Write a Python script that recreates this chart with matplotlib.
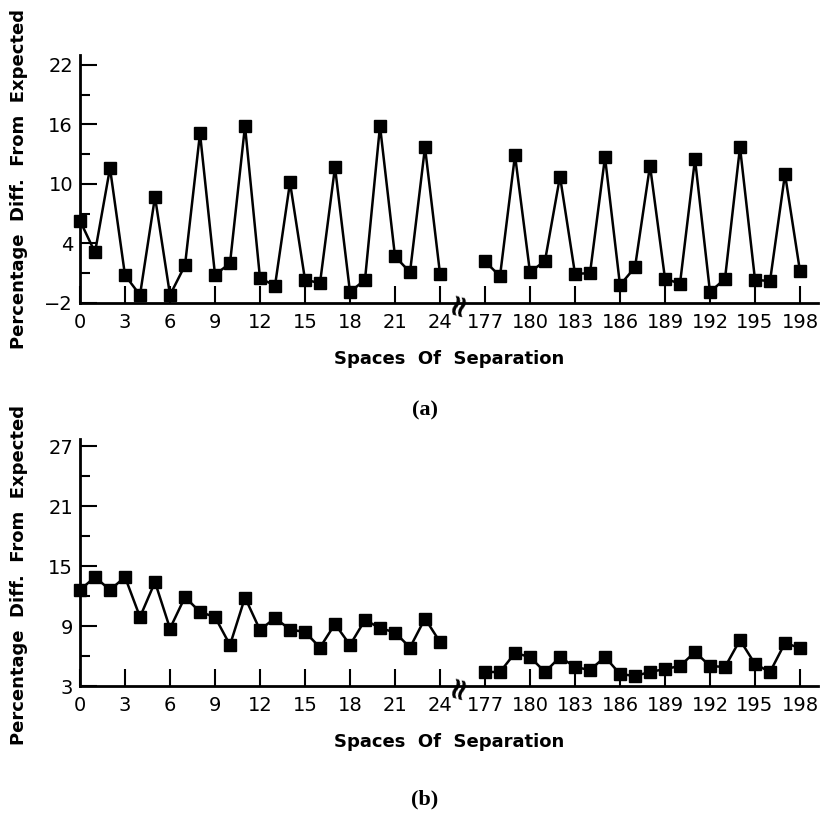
import matplotlib
matplotlib.use("Agg")
import matplotlib.pyplot as plt
from matplotlib.ticker import FixedLocator

# separations shown on the axis (the middle range 25..176 is cut out)
sep_left = list(range(0, 25))
sep_right = list(range(177, 199))
GAP = 150  # 177 is drawn where 27 would be

# (a) percentage difference from expected
pct_a_left = [6.3, 3.1, 11.6, 0.8, -1.2, 8.7, -1.2, 1.8, 15.1, 0.85, 2.0, 15.85, 0.5,
              -0.25, 10.15, 0.35, 0.0, 11.7, -0.9, 0.35, 15.85, 2.7, 1.1, 13.7, 0.95]
pct_a_right = [2.2, 0.7, 12.9, 1.1, 2.25, 10.75, 0.95, 1.0, 12.7, -0.2, 1.6, 11.85,
               0.45, -0.05, 12.5, -0.9, 0.45, 13.7, 0.35, 0.2, 11.0, 1.2]

# (b) percentage difference from expected
pct_b_left = [12.6, 13.9, 12.6, 13.9, 9.9, 13.4, 8.75, 11.9, 10.4, 9.9, 7.1, 11.85, 8.6,
              9.8, 8.65, 8.4, 6.85, 9.2, 7.1, 9.6, 8.8, 8.35, 6.85, 9.75, 7.4]
pct_b_right = [4.4, 4.4, 6.3, 5.9, 4.4, 5.9, 4.9, 4.6, 5.9, 4.2, 4.0, 4.4, 4.7, 5.0,
               6.4, 5.0, 4.9, 7.6, 5.2, 4.4, 7.3, 6.8]

x_ticks = list(range(0, 25, 3)) + list(range(177, 199, 3))

W, H = 827, 816
fig = plt.figure(figsize=(W / 100, H / 100), dpi=100)

tick_font = dict(family="DejaVu Sans", weight="normal")
label_font = dict(family="DejaVu Sans", weight="bold")


def panel(rect, left_vals, right_vals, ylim, major, minor, label_y, tag, tag_y):
    ax = fig.add_axes(rect)
    for xs, ys in ((sep_left, left_vals), (sep_right, right_vals)):
        pos = [s - GAP if s > 100 else s for s in xs]
        ax.plot(pos, ys, color="black", lw=1.8, marker="s", ms=9,
                mec="black", mfc="black", clip_on=False, zorder=3)
    ax.set_xlim(0, 49.2)
    ax.set_ylim(*ylim)
    ax.spines["top"].set_visible(False)
    ax.spines["right"].set_visible(False)
    for s in ("left", "bottom"):
        ax.spines[s].set_linewidth(2.0)
    tick_pos = [t - GAP if t > 100 else t for t in x_ticks]
    ax.set_xticks(tick_pos)
    ax.set_xticklabels([str(t) for t in x_ticks], fontsize=14, **tick_font)
    ax.set_yticks(major)
    ax.set_yticklabels([str(v).replace("-", "\u2212") for v in major], fontsize=14, **tick_font)
    ax.yaxis.set_minor_locator(FixedLocator(minor))
    ax.tick_params(axis="both", which="major", direction="in", length=12, width=1.5, pad=5)
    ax.tick_params(axis="y", which="minor", direction="in", length=7, width=1.5)
    ax.tick_params(axis="x", pad=7)

    # break mark on the x axis between 24 and 177
    ax.text(25.3, ylim[0], "\u2248", rotation=75, ha="center", va="center",
            fontsize=22, fontweight="bold", color="black", zorder=4, clip_on=False)

    ax.set_ylabel("Percentage  Diff.  From  Expected", fontsize=13, **label_font)
    ax.yaxis.set_label_coords(-0.07, label_y)
    ax.set_xlabel("Spaces  Of  Separation", fontsize=13, labelpad=13, **label_font)
    fig.text(425 / W, 1 - tag_y / H, tag, ha="center", va="center",
             fontsize=16, fontweight="bold", family="Liberation Serif")
    return ax


panel([80 / W, 513 / H, 738 / W, 248 / H], pct_a_left, pct_a_right, (-2, 23),
      [-2, 4, 10, 16, 22], [1, 7, 13, 19], 0.5, "(a)", 410)
panel([80 / W, 130 / H, 738 / W, 247 / H], pct_b_left, pct_b_right, (3, 27.7),
      [3, 9, 15, 21, 27], [6, 12, 18, 24], 0.45, "(b)", 799)

fig.savefig("out.png", dpi=100)
